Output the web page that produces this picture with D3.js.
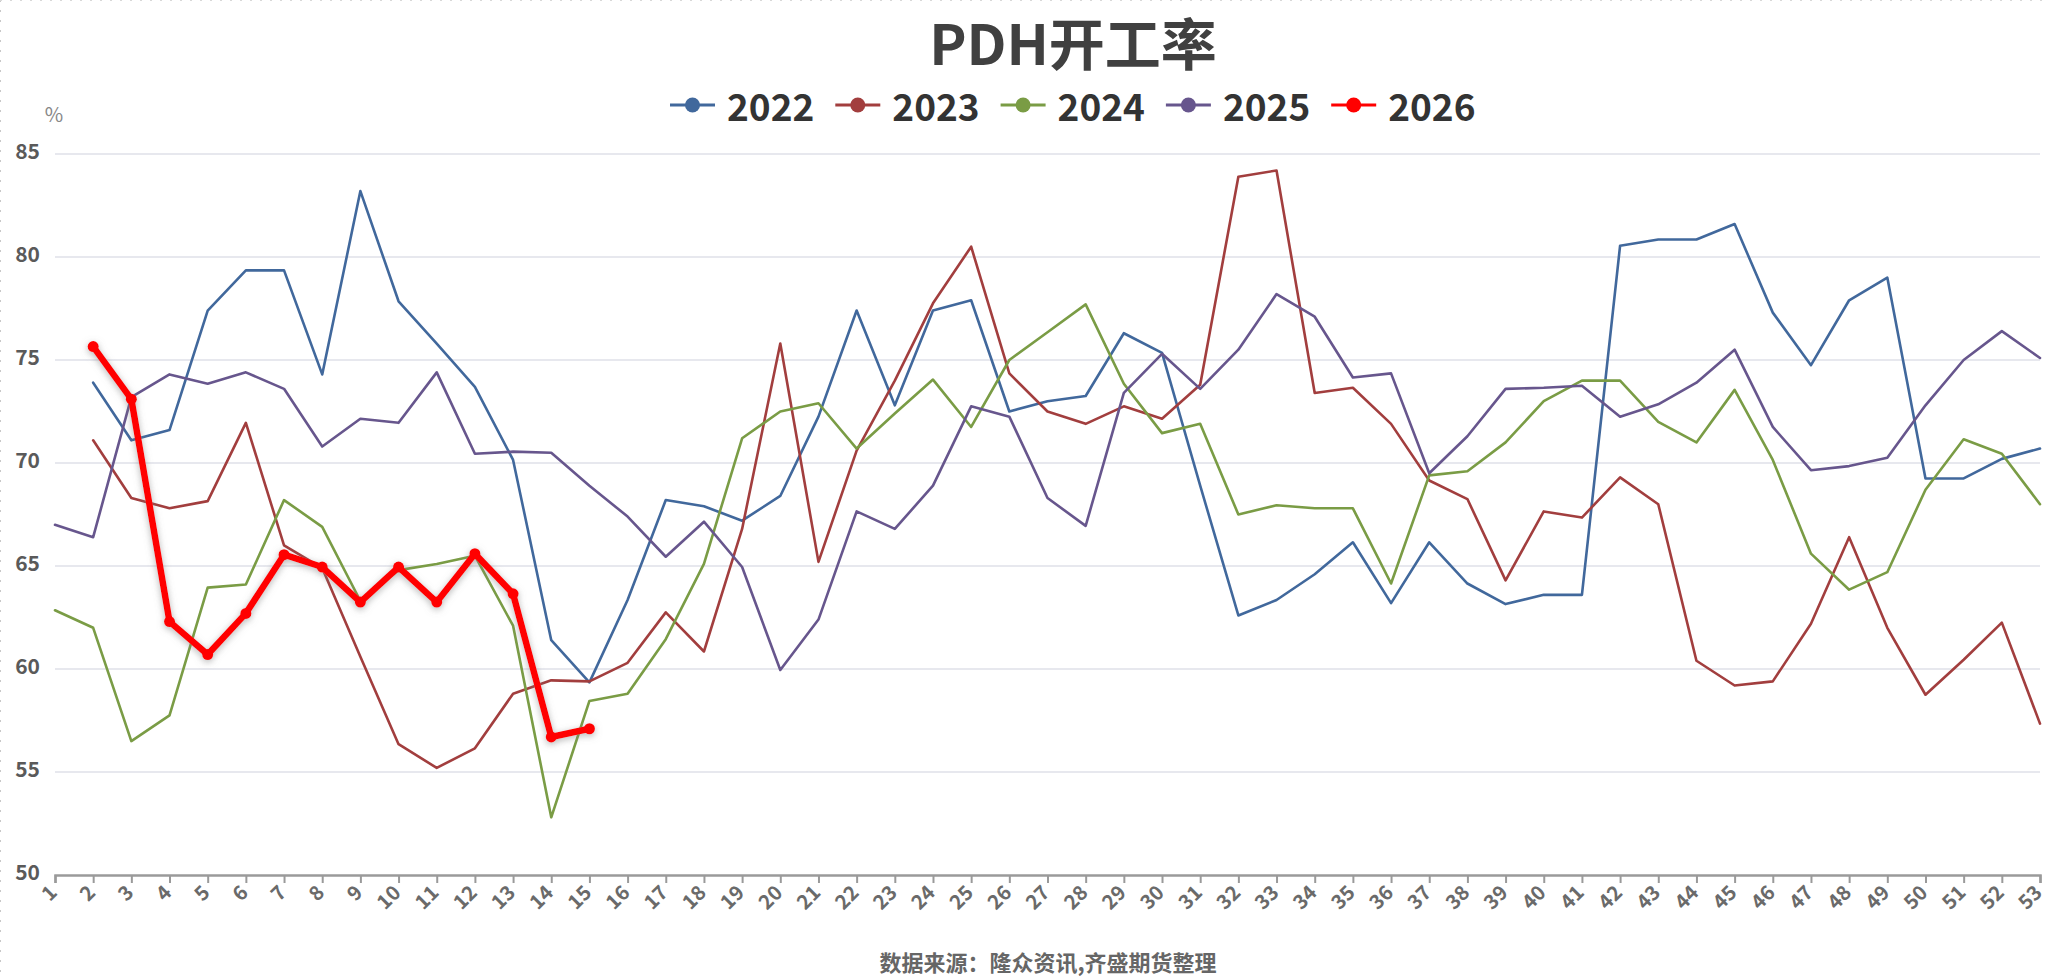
<!DOCTYPE html>
<html>
<head>
<meta charset="utf-8">
<script src="https://cdn.jsdelivr.net/npm/d3@7/dist/d3.min.js"></script>
<style>
  html, body { margin: 0; padding: 0; background: #ffffff; }
  svg { display: block; }
</style>
</head>
<body>
<svg id="chart" width="2047" height="979"></svg>
<script>
const weeks = d3.range(1, 54);
const seriesNames = ["2022", "2023", "2024", "2025", "2026"];
const seriesColors = ["#41689c", "#a23e3e", "#7a9c45", "#67568d", "#ff0000"];
const yTicks = [50, 55, 60, 65, 70, 75, 80, 85];

const y2022 = [null, 73.9, 71.1, 71.6, 77.4, 79.35, 79.35, 74.3, 83.2, 77.85,
  75.8, 73.7, 70.15, 61.4, 59.35, 63.35, 68.2, 67.9, 67.2, 68.4,
  72.25, 77.4, 72.8, 77.4, 77.9, 72.5, 73.0, 73.25, 76.3, 75.35,
  68.9, 62.6, 63.35, 64.6, 66.15, 63.2, 66.15, 64.15, 63.15, 63.6,
  63.6, 80.55, 80.85, 80.85, 81.6, 77.3, 74.75, 77.9, 79.0, 69.25,
  69.25, 70.2, 70.7];
const y2023 = [null, 71.1, 68.3, 67.8, 68.15, 71.95, 66.0, 64.9, 60.6, 56.35,
  55.2, 56.15, 58.8, 59.45, 59.4, 60.3, 62.75, 60.85, 66.8, 75.8,
  65.2, 70.6, 74.0, 77.75, 80.5, 74.35, 72.5, 71.9, 72.75, 72.15,
  73.8, 83.9, 84.2, 73.4, 73.65, 71.9, 69.15, 68.25, 64.3, 67.65,
  67.35, 69.3, 68.0, 60.4, 59.2, 59.4, 62.2, 66.4, 62.0, 58.75,
  60.45, 62.25, 57.35];
const y2024 = [62.85, 62.0, 56.5, 57.75, 63.95, 64.1, 68.2, 66.9, 63.3, 64.8,
  65.1, 65.5, 62.1, 52.8, 58.45, 58.8, 61.45, 65.1, 71.2, 72.5,
  72.9, 70.7, 72.4, 74.05, 71.75, 75.0, 76.35, 77.7, 73.85, 71.45,
  71.9, 67.5, 67.95, 67.8, 67.8, 64.15, 69.4, 69.6, 71.0, 73.0,
  74.0, 74.0, 72.0, 71.0, 73.55, 70.15, 65.6, 63.85, 64.7, 68.7,
  71.15, 70.45, 68.0];
const y2025 = [67.0, 66.4, 73.2, 74.3, 73.85, 74.4, 73.6, 70.8, 72.15, 71.95,
  74.4, 70.45, 70.55, 70.5, 68.9, 67.4, 65.45, 67.15, 64.95, 59.95,
  62.4, 67.65, 66.8, 68.9, 72.75, 72.25, 68.3, 66.95, 73.4, 75.3,
  73.6, 75.5, 78.2, 77.1, 74.15, 74.35, 69.5, 71.3, 73.6, 73.65,
  73.75, 72.25, 72.85, 73.9, 75.5, 71.75, 69.65, 69.85, 70.25, 72.8,
  75.0, 76.4, 75.1];
const y2026 = [null, 75.65, 73.1, 62.3, 60.7, 62.7, 65.55, 64.95, 63.25, 64.95,
  63.25, 65.6, 63.65, 56.7, 57.1];

const allSeries = [y2022, y2023, y2024, y2025, y2026];

const svg = d3.select("#chart");
const FONT = "'Noto Sans CJK SC', 'Noto Sans', sans-serif";

// frame dotted borders
svg.append("line").attr("x1", 0.5).attr("x2", 0.5).attr("y1", 0).attr("y2", 979)
  .attr("stroke", "#c8c8c8").attr("stroke-width", 1).attr("stroke-dasharray", "2,8");
svg.append("line").attr("x1", 0).attr("x2", 2047).attr("y1", 0.5).attr("y2", 0.5)
  .attr("stroke", "#d8d8d8").attr("stroke-width", 1).attr("stroke-dasharray", "2,8");

const x = d3.scalePoint().domain(weeks).range([55, 2040]);
const y = d3.scaleLinear().domain([50, 85]).range([875, 154]);

// defs: shadow for 2026
const defs = svg.append("defs");
const f = defs.append("filter").attr("id", "glow")
  .attr("x", "-10%").attr("y", "-10%").attr("width", "120%").attr("height", "120%");
f.append("feDropShadow").attr("dx", 0).attr("dy", 2).attr("stdDeviation", 3.5)
  .attr("flood-color", "#777").attr("flood-opacity", 0.55);

// gridlines
const grid = svg.append("g");
grid.selectAll("line").data(yTicks.filter(d => d > 50)).join("line")
  .attr("x1", 55).attr("x2", 2040)
  .attr("y1", d => y(d)).attr("y2", d => y(d))
  .attr("stroke", "#e7e8ee").attr("stroke-width", 2);

// y axis labels
const yAxis = d3.axisLeft(y).tickValues(yTicks).tickSize(0).tickPadding(0);
const gy = svg.append("g").attr("transform", "translate(40,0)").call(yAxis);
gy.select(".domain").remove();
gy.selectAll("text")
  .attr("font-family", FONT).attr("font-size", 21).attr("font-weight", "bold")
  .attr("fill", "#5a5a5a").attr("dy", "0.2em").attr("text-anchor", "end");

// x axis
const xAxis = d3.axisBottom(x).tickSize(8).tickPadding(4);
const gx = svg.append("g").attr("transform", "translate(0,875)").call(xAxis);
gx.select(".domain").attr("stroke", "#9a9a9a").attr("stroke-width", 2.5);
gx.selectAll(".tick line").attr("stroke", "#9a9a9a").attr("stroke-width", 2);
gx.selectAll("text")
  .attr("font-family", FONT).attr("font-size", 20).attr("font-weight", "bold")
  .attr("fill", "#6a6a6a")
  .attr("text-anchor", "end")
  .attr("x", 0).attr("y", 0)
  .attr("dx", 0).attr("dy", "0.35em")
  .attr("transform", "translate(-2,14) rotate(-45)");

// "%" unit
svg.append("text").attr("x", 54).attr("y", 113).attr("text-anchor", "middle")
  .attr("dominant-baseline", "central")
  .attr("font-family", FONT).attr("font-size", 20).attr("fill", "#888")
  .text("%");

// lines
const line = d3.line()
  .defined(d => d.v !== null && d.v !== undefined)
  .x(d => x(d.w)).y(d => y(d.v));

allSeries.forEach((arr, i) => {
  const pts = arr.map((v, k) => ({ w: weeks[k], v: v }));
  const isMain = i === 4;
  const g = svg.append("g");
  if (isMain) g.attr("filter", "url(#glow)");
  g.append("path").datum(pts)
    .attr("d", line)
    .attr("fill", "none")
    .attr("stroke", seriesColors[i])
    .attr("stroke-width", isMain ? 6.5 : 2.6)
    .attr("stroke-linejoin", "round")
    .attr("stroke-linecap", "round");
  if (isMain) {
    g.selectAll("circle").data(pts.filter(d => d.v !== null)).join("circle")
      .attr("cx", d => x(d.w)).attr("cy", d => y(d.v)).attr("r", 5.5)
      .attr("fill", seriesColors[i]);
  }
});

// title
svg.append("text").attr("x", 1073).attr("y", 40)
  .attr("text-anchor", "middle").attr("dominant-baseline", "central")
  .attr("font-family", FONT).attr("font-size", 56).attr("font-weight", "bold")
  .attr("fill", "#404040").text("PDH开工率");

// legend
const legend = svg.append("g");
const legStart = 670, legStep = 165.3, legY = 105;
seriesNames.forEach((name, i) => {
  const lx = legStart + i * legStep;
  const g = legend.append("g");
  g.append("line").attr("x1", lx).attr("x2", lx + 45).attr("y1", legY).attr("y2", legY)
    .attr("stroke", seriesColors[i]).attr("stroke-width", 3);
  g.append("circle").attr("cx", lx + 22.5).attr("cy", legY).attr("r", 7.5)
    .attr("fill", seriesColors[i]);
  g.append("text").attr("x", lx + 57).attr("y", legY)
    .attr("dominant-baseline", "central")
    .attr("font-family", FONT).attr("font-size", 37).attr("font-weight", "bold")
    .attr("fill", "#333").text(name);
});

// footer
svg.append("text").attr("x", 1048).attr("y", 961)
  .attr("text-anchor", "middle").attr("dominant-baseline", "central")
  .attr("font-family", FONT).attr("font-size", 22).attr("font-weight", "bold")
  .attr("fill", "#666").text("数据来源：隆众资讯,齐盛期货整理");
</script>
</body>
</html>
